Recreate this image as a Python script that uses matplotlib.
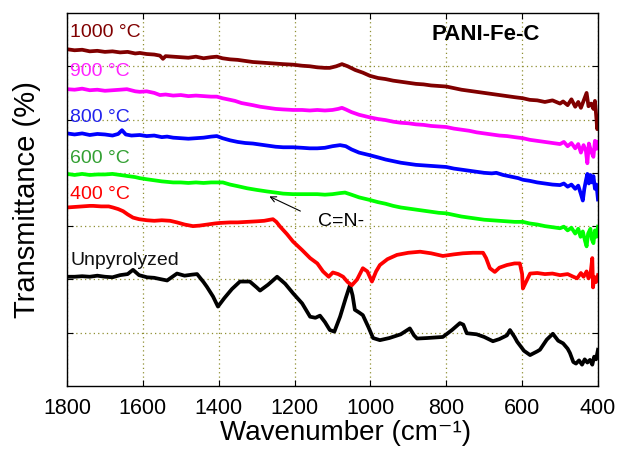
import matplotlib
matplotlib.use("Agg")
import matplotlib.pyplot as plt

plt.rcParams['font.family'] = ['Liberation Sans', 'DejaVu Sans']

### FTIR spectra of PANI-Fe-C (offset traces, arbitrary units)
wn_1000 = [1800, 1780, 1760, 1740, 1720, 1700, 1680, 1660, 1640, 1620, 1608, 1590, 1570, 1555, 1547, 1540,
           1520, 1500, 1480, 1460, 1440, 1420, 1405, 1390, 1370, 1350, 1330, 1310, 1290, 1270, 1250, 1230,
           1204, 1180, 1160, 1140, 1120, 1107, 1090, 1075, 1060, 1040, 1020, 1001, 980, 960, 940, 920, 900,
           880, 860, 840, 820, 800, 780, 760, 740, 720, 700, 680, 660, 640, 620, 598, 580, 560, 540, 520,
           500, 492, 480, 470, 460, 452, 445, 438, 430, 425, 418, 412, 408, 405, 402, 400]
tr_1000 = [6.32, 6.30, 6.31, 6.28, 6.29, 6.27, 6.28, 6.26, 6.27, 6.24, 6.25, 6.23, 6.22, 6.20, 6.14, 6.19,
           6.18, 6.17, 6.16, 6.18, 6.15, 6.17, 6.18, 6.15, 6.13, 6.12, 6.10, 6.08, 6.07, 6.06, 6.05, 6.04,
           6.03, 6.01, 6.00, 5.98, 5.97, 5.97, 6.00, 6.04, 6.00, 5.93, 5.88, 5.82, 5.78, 5.76, 5.73, 5.71, 5.69,
           5.67, 5.66, 5.64, 5.63, 5.62, 5.59, 5.56, 5.54, 5.52, 5.50, 5.48, 5.46, 5.44, 5.42, 5.40, 5.37,
           5.36, 5.33, 5.36, 5.30, 5.34, 5.27, 5.38, 5.24, 5.33, 5.22, 5.35, 5.50, 5.25, 5.30, 5.20, 5.35,
           5.10, 4.82, 5.00]

wn_900 = [1800, 1780, 1760, 1740, 1720, 1700, 1680, 1660, 1642, 1620, 1608, 1590, 1570, 1555, 1540, 1520,
          1500, 1480, 1460, 1440, 1420, 1405, 1390, 1370, 1357, 1340, 1325, 1310, 1290, 1270, 1250, 1230,
          1204, 1180, 1160, 1140, 1120, 1100, 1085, 1075, 1065, 1050, 1030, 1001, 980, 960, 940, 920, 900,
          880, 860, 840, 820, 800, 780, 760, 740, 720, 700, 680, 660, 640, 620, 598, 580, 560, 540, 520,
          500, 490, 480, 470, 460, 452, 445, 438, 432, 428, 424, 418, 412, 408, 404, 400]
tr_900 = [5.57, 5.56, 5.58, 5.55, 5.56, 5.54, 5.55, 5.56, 5.57, 5.53, 5.52, 5.53, 5.50, 5.46, 5.47, 5.45,
          5.46, 5.44, 5.45, 5.44, 5.43, 5.43, 5.40, 5.37, 5.35, 5.31, 5.29, 5.27, 5.24, 5.22, 5.20, 5.19,
          5.18, 5.18, 5.17, 5.18, 5.17, 5.18, 5.20, 5.22, 5.19, 5.14, 5.09, 5.04, 5.01, 4.99, 4.96, 4.94, 4.93,
          4.91, 4.90, 4.88, 4.87, 4.86, 4.83, 4.81, 4.79, 4.76, 4.74, 4.72, 4.70, 4.69, 4.67, 4.65, 4.62,
          4.60, 4.58, 4.56, 4.54, 4.58, 4.50, 4.56, 4.46, 4.54, 4.38, 4.52, 4.42, 4.18, 4.55, 4.40, 4.30,
          4.60, 4.45, 4.58]

wn_800 = [1800, 1780, 1760, 1740, 1720, 1700, 1680, 1665, 1655, 1645, 1630, 1608, 1590, 1570, 1550, 1536,
          1520, 1500, 1480, 1460, 1440, 1420, 1405, 1390, 1370, 1350, 1330, 1310, 1290, 1270, 1250, 1230,
          1204, 1180, 1160, 1140, 1120, 1100, 1080, 1065, 1050, 1030, 1001, 980, 960, 940, 920, 900, 880,
          860, 840, 820, 800, 780, 760, 740, 720, 700, 680, 668, 650, 630, 610, 598, 580, 560, 540, 520,
          500, 490, 480, 470, 460, 452, 445, 440, 436, 432, 428, 424, 420, 416, 412, 408, 404, 400]
tr_800 = [4.74, 4.72, 4.74, 4.71, 4.73, 4.72, 4.70, 4.73, 4.80, 4.72, 4.70, 4.71, 4.69, 4.70, 4.67, 4.68,
          4.66, 4.65, 4.64, 4.65, 4.66, 4.68, 4.69, 4.65, 4.61, 4.58, 4.56, 4.55, 4.53, 4.51, 4.49, 4.48,
          4.48, 4.47, 4.46, 4.46, 4.47, 4.50, 4.52, 4.50, 4.44, 4.38, 4.33, 4.29, 4.25, 4.22, 4.19, 4.17, 4.15,
          4.14, 4.13, 4.12, 4.11, 4.08, 4.06, 4.04, 4.02, 4.00, 3.99, 4.00, 3.96, 3.93, 3.90, 3.87, 3.85,
          3.82, 3.80, 3.78, 3.77, 3.80, 3.74, 3.78, 3.70, 3.76, 3.60, 3.48, 3.70, 3.85, 3.98, 3.80, 3.96,
          3.82, 3.94, 3.70, 3.78, 3.50]

wn_600 = [1800, 1780, 1760, 1740, 1720, 1700, 1680, 1660, 1640, 1620, 1608, 1590, 1570, 1550, 1520, 1500,
          1480, 1460, 1440, 1420, 1400, 1389, 1370, 1350, 1325, 1300, 1272, 1250, 1230, 1204, 1180, 1160,
          1140, 1120, 1100, 1080, 1067, 1050, 1030, 1001, 980, 960, 940, 920, 900, 880, 860, 840, 820, 800,
          780, 760, 740, 720, 700, 680, 660, 640, 620, 598, 580, 560, 540, 520, 500, 490, 480, 470, 460,
          452, 446, 440, 434, 430, 426, 420, 416, 412, 408, 404, 400]
tr_600 = [3.98, 3.96, 3.98, 3.96, 3.97, 3.97, 3.98, 3.96, 3.94, 3.92, 3.90, 3.88, 3.86, 3.84, 3.82, 3.82,
          3.81, 3.82, 3.81, 3.82, 3.82, 3.82, 3.78, 3.75, 3.71, 3.68, 3.65, 3.63, 3.61, 3.60, 3.60, 3.60,
          3.60, 3.59, 3.60, 3.62, 3.63, 3.59, 3.54, 3.49, 3.45, 3.42, 3.38, 3.35, 3.33, 3.31, 3.29, 3.27, 3.25, 3.24,
          3.21, 3.18, 3.16, 3.14, 3.12, 3.11, 3.10, 3.09, 3.08, 3.08, 3.05, 3.03, 3.00, 2.98, 2.96, 2.99, 2.92,
          2.97, 2.86, 2.95, 2.80, 2.90, 2.72, 2.62, 2.86, 2.95, 2.75, 2.68, 2.92, 2.80, 2.99]

wn_400 = [1800, 1780, 1760, 1740, 1731, 1710, 1690, 1679, 1665, 1652, 1640, 1626, 1610, 1589, 1570, 1550,
          1528, 1510, 1490, 1468, 1450, 1430, 1410, 1396, 1370, 1350, 1325, 1300, 1280, 1265, 1257, 1248,
          1238, 1220, 1204, 1180, 1159, 1140, 1125, 1110, 1099, 1085, 1072, 1060, 1049, 1035, 1020, 1008,
          996, 985, 975, 955, 930, 900, 869, 840, 809, 780, 756, 730, 703, 695, 685, 672, 660, 640, 620,
          606, 600, 598, 590, 579, 560, 540, 520, 500, 480, 465, 455, 445, 438, 430, 425, 420, 415, 413,
          410, 405, 400]
tr_400 = [3.35, 3.36, 3.37, 3.38, 3.38, 3.37, 3.37, 3.35, 3.32, 3.28, 3.22, 3.16, 3.13, 3.11, 3.10, 3.11,
          3.10, 3.07, 3.03, 3.00, 3.01, 3.03, 3.05, 3.06, 3.07, 3.07, 3.08, 3.09, 3.10, 3.12, 3.13, 3.08,
          2.99, 2.85, 2.71, 2.55, 2.40, 2.30, 2.15, 2.05, 2.13, 2.10, 2.05, 1.95, 1.89, 2.00, 2.21, 2.15,
          1.96, 2.15, 2.27, 2.38, 2.46, 2.50, 2.52, 2.49, 2.44, 2.47, 2.49, 2.50, 2.50, 2.40, 2.21, 2.14,
          2.22, 2.27, 2.30, 2.30, 2.10, 1.83, 1.95, 2.11, 2.12, 2.10, 2.11, 2.08, 2.10, 2.05, 2.02, 2.12,
          2.05, 2.15, 2.02, 2.08, 2.40, 1.85, 2.05, 1.95, 2.08]

wn_raw = [1800, 1780, 1760, 1740, 1720, 1700, 1680, 1660, 1640, 1626, 1610, 1589, 1570, 1550, 1536, 1520,
          1510, 1490, 1470, 1457, 1440, 1431, 1415, 1402, 1385, 1365, 1344, 1318, 1300, 1291, 1270, 1246,
          1225, 1204, 1180, 1159, 1145, 1133, 1120, 1107, 1095, 1080, 1065, 1054, 1047, 1041, 1030, 1020,
          1005, 993, 975, 950, 920, 896, 885, 877, 850, 830, 809, 785, 764, 755, 746, 720, 700, 677, 660,
          640, 632, 620, 613, 595, 579, 560, 553, 535, 519, 505, 492, 480, 474, 465, 458, 450, 442, 435,
          428, 421, 415, 410, 405, 400]
tr_raw = [2.05, 2.05, 2.06, 2.05, 2.07, 2.05, 2.04, 2.08, 2.10, 2.18, 2.08, 2.04, 2.03, 2.00, 1.98, 2.06,
          2.11, 2.07, 2.09, 2.10, 1.95, 1.86, 1.68, 1.49, 1.65, 1.82, 1.96, 1.96, 1.85, 1.79, 1.90, 2.05,
          1.92, 1.74, 1.55, 1.30, 1.28, 1.32, 1.20, 1.05, 1.02, 1.30, 1.65, 1.89, 1.70, 1.43, 1.38, 1.33,
          1.10, 0.90, 0.86, 0.90, 0.97, 1.08, 0.95, 0.89, 0.90, 0.91, 0.92, 1.05, 1.18, 1.15, 0.99, 0.97,
          0.92, 0.84, 0.88, 0.95, 1.05, 0.92, 0.83, 0.66, 0.58, 0.65, 0.68, 0.87, 0.98, 0.85, 0.80, 0.70,
          0.62, 0.45, 0.42, 0.48, 0.40, 0.50, 0.44, 0.49, 0.40, 0.55, 0.50, 0.68]

series = [
    (wn_raw, tr_raw, 'black', 'Unpyrolyzed', '#111111', 2.36),
    (wn_400, tr_400, '#ff0000', '400 °C', '#ff0000', 3.59),
    (wn_600, tr_600, '#00ff00', '600 °C', '#33a033', 4.26),
    (wn_800, tr_800, '#0000ff', '800 °C', '#2222ee', 5.04),
    (wn_900, tr_900, '#ff00ff', '900 °C', '#ff22ff', 5.91),
    (wn_1000, tr_1000, '#800000', '1000 °C', '#800000', 6.64),
]

fig = plt.figure(figsize=(6.18, 4.57), dpi=100)
ax = fig.add_axes([0.1084, 0.1554, 0.8592, 0.8162])

for wn, tr, c, lab, tc, ty in series:
    ax.plot(wn, tr, color=c, linewidth=2.7, solid_joinstyle='round')
    ax.text(1792, ty, lab, color=tc, fontsize=14, va='center', ha='left')

ax.set_xlim(1800, 400)
ax.set_ylim(0, 7)
ax.set_xticks(range(1800, 399, -200))
ax.set_yticks(range(1, 7))
ax.set_yticklabels([])
ax.tick_params(direction='in', length=4, top=True, right=True, labelsize=15.5, pad=9)
ax.grid(True, color='#8f8f30', linestyle=(0, (1, 2.5)), linewidth=0.9)
for s in ax.spines.values():
    s.set_linewidth(1.0)

ax.set_xlabel('Wavenumber (cm\u207b\u00b9)', fontsize=20)
ax.xaxis.set_label_coords(0.525, -0.09, transform=ax.transAxes)
ax.xaxis.label.set_va('top')
ax.set_ylabel('Transmittance (%)', fontsize=21, labelpad=10)

ax.text(0.789, 0.941, 'PANI-Fe-C', transform=ax.transAxes, fontsize=16, fontweight='bold',
        ha='center', va='center')
ax.annotate('', xy=(1273, 3.58), xytext=(1178, 3.26),
            arrowprops=dict(arrowstyle='->', color='black', lw=0.8))
ax.text(1138, 3.08, 'C=N-', fontsize=14, va='center', ha='left')

fig.savefig('out.png', dpi=100)
